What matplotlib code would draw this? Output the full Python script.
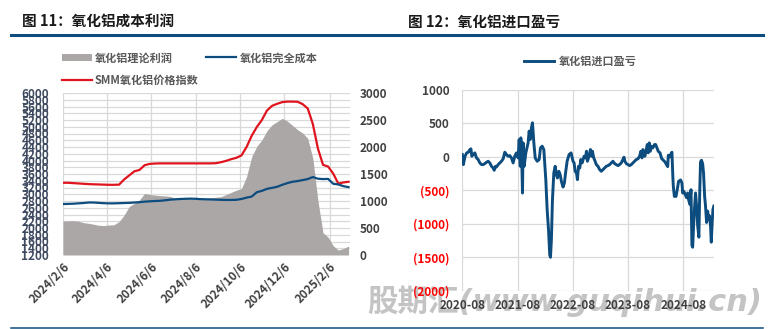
import numpy as np
import pandas as pd
import matplotlib
matplotlib.use('Agg')
import matplotlib.pyplot as plt
from matplotlib.lines import Line2D
from matplotlib.patches import Patch
from matplotlib.ticker import MultipleLocator, FuncFormatter

plt.rcParams['font.family'] = ['Noto Sans CJK SC', 'DejaVu Sans']
plt.rcParams['axes.unicode_minus'] = False

# ---- 图11 data (weekly) ----
week_dates = pd.date_range('2024-02-06', periods=57, freq='7D')
smm_price = [3340, 3340, 3330, 3320, 3310, 3300, 3295, 3290, 3285, 3280, 3280, 3285,
             3440, 3560, 3680, 3720, 3860,
             3900, 3910, 3915, 3915, 3915, 3915, 3915, 3915, 3915, 3915, 3915, 3915, 3915,
             3920, 3950, 3990, 4040, 4080,
             4150, 4400, 4730, 4990, 5200, 5480, 5620, 5680, 5730, 5745, 5745, 5740,
             5670, 5540, 5080, 4350, 3870, 3820, 3610, 3315, 3350, 3370]
full_cost = [2710, 2715, 2720, 2730, 2740, 2755, 2755, 2745, 2735, 2730, 2730, 2735,
             2740, 2745, 2755, 2765, 2780, 2790, 2800, 2805, 2820, 2840, 2850, 2860,
             2865, 2870, 2865, 2855, 2850, 2845, 2840, 2835, 2830, 2830, 2835, 2860,
             2900, 2930, 3060, 3100, 3160, 3190, 3220, 3280, 3330, 3370, 3390, 3420,
             3450, 3510, 3460, 3450, 3455, 3310, 3290, 3240, 3210]
profit = [630, 632, 635, 625, 600, 587, 570, 550, 545, 555, 560, 620,
          740, 900, 955, 1020, 1140, 1120, 1110, 1100, 1095, 1085, 1050, 1045,
          1040, 1040, 1038, 1045, 1050, 1060, 1070, 1080, 1120, 1160, 1200, 1230,
          1450, 1820, 2010, 2130, 2300, 2410, 2470, 2530, 2480, 2400, 2320, 2260,
          2160, 1790, 1000, 410, 330, 170, 92, 120, 165]
left_ticks = ['2024-02-06', '2024-04-06', '2024-06-06', '2024-08-06',
              '2024-10-06', '2024-12-06', '2025-02-06']
left_tick_labels = ['2024/2/6', '2024/4/6', '2024/6/6', '2024/8/6',
                    '2024/10/6', '2024/12/6', '2025/2/6']

# ---- 图12 data ----
import_dates = [
    '2020-08-01', '2020-08-08', '2020-08-19', '2020-08-30', '2020-09-10', '2020-09-20',
    '2020-09-27', '2020-10-03', '2020-10-12', '2020-10-23', '2020-11-03', '2020-11-14',
    '2020-11-25', '2020-12-06', '2020-12-17', '2020-12-28', '2021-01-08', '2021-01-19',
    '2021-01-30', '2021-02-10', '2021-02-21', '2021-02-28', '2021-03-09', '2021-03-15',
    '2021-03-26', '2021-04-06', '2021-04-17', '2021-04-28', '2021-05-09', '2021-05-20',
    '2021-05-31', '2021-06-11', '2021-06-22', '2021-07-03', '2021-07-14', '2021-07-25',
    '2021-08-05', '2021-08-12', '2021-08-19', '2021-08-23', '2021-08-30', '2021-09-03',
    '2021-09-07', '2021-09-14', '2021-09-25', '2021-10-10', '2021-10-17', '2021-10-24',
    '2021-11-01', '2021-11-08', '2021-11-17', '2021-11-26', '2021-12-09', '2021-12-22',
    '2021-12-31', '2022-01-11', '2022-01-22', '2022-01-28', '2022-02-04', '2022-02-13',
    '2022-02-22', '2022-03-02', '2022-03-07', '2022-03-13', '2022-03-20', '2022-03-29',
    '2022-04-07', '2022-04-15', '2022-04-22', '2022-05-01', '2022-05-10', '2022-05-18',
    '2022-05-29', '2022-06-07', '2022-06-16', '2022-06-25', '2022-07-08', '2022-07-21',
    '2022-08-03', '2022-08-10', '2022-08-17', '2022-08-26', '2022-09-01', '2022-09-08',
    '2022-09-17', '2022-09-23', '2022-10-02', '2022-10-09', '2022-10-15', '2022-10-24',
    '2022-10-31', '2022-11-06', '2022-11-17', '2022-11-26', '2022-12-03', '2022-12-09',
    '2022-12-18', '2022-12-27', '2023-01-04', '2023-01-15', '2023-01-26', '2023-02-06',
    '2023-02-17', '2023-02-28', '2023-03-11', '2023-03-22', '2023-04-02', '2023-04-13',
    '2023-04-24', '2023-05-05', '2023-05-16', '2023-05-27', '2023-06-07', '2023-06-18',
    '2023-06-29', '2023-07-06', '2023-07-12', '2023-07-21', '2023-08-01', '2023-08-12',
    '2023-08-23', '2023-09-03', '2023-09-14', '2023-09-25', '2023-10-06', '2023-10-17',
    '2023-10-26', '2023-11-02', '2023-11-08', '2023-11-15', '2023-11-21', '2023-11-30',
    '2023-12-07', '2023-12-13', '2023-12-20', '2023-12-27', '2024-01-04', '2024-01-13',
    '2024-01-24', '2024-01-31', '2024-02-09', '2024-02-17', '2024-02-29', '2024-03-11',
    '2024-03-22', '2024-04-02', '2024-04-13', '2024-04-20', '2024-04-24', '2024-05-05',
    '2024-05-12', '2024-05-18', '2024-05-23', '2024-05-27', '2024-06-03', '2024-06-14',
    '2024-06-22', '2024-07-01', '2024-07-14', '2024-07-23', '2024-07-28', '2024-08-05',
    '2024-08-14', '2024-08-23', '2024-08-30', '2024-09-05', '2024-09-14', '2024-09-21',
    '2024-09-27', '2024-10-02', '2024-10-08', '2024-10-15', '2024-10-21', '2024-10-28',
    '2024-11-04', '2024-11-12', '2024-11-18', '2024-11-23', '2024-11-29', '2024-12-07',
    '2024-12-13', '2024-12-20', '2024-12-26', '2025-01-02', '2025-01-09', '2025-01-15',
    '2025-01-21', '2025-01-28', '2025-02-02', '2025-02-08', '2025-02-13', '2025-02-19']
import_pnl = [
    35, -115, 10, 60, 70, 110,
    120, 10, 35, 60, -15, -40,
    -90, -115, -115, -100, -80, -65,
    -90, -140, -165, -200, -140, -150,
    -115, -90, -65, -30, 70, 35,
    10, 20, -15, -90, 10, 60,
    -15, 260, -140, 285, -140, -540,
    210, -140, 60, 210, 385, 260,
    435, 510, 210, -15, -65, -40,
    135, 160, 110, -90, -340, -790,
    -1090, -1465, -1500, -1240, -640, -240,
    -140, -265, -315, -215, -265, -365,
    -450, -390, -215, -65, 35, 60,
    -65, -90, -215, -240, -340, -140,
    -165, -40, -90, -40, 10, -15,
    85, -65, 10, 110, 10, 85,
    -15, -65, -115, -140, -190, -215,
    -190, -165, -140, -130, -115, -90,
    -65, -100, -115, -130, -115, -90,
    -40, -5, -65, -100, -115, -130,
    -115, -90, -65, -40, -30, 10,
    85, -15, 110, 60, 10, 110,
    185, 60, 210, 85, 160, 135,
    185, 185, 135, 85, 60, -25,
    -50, -75, -120, -145, 25, 0,
    50, 70, -245, -440, -590, -590,
    -490, -365, -345, -390, -540, -515,
    -565, -610, -540, -640, -710, -490,
    -1325, -1350, -1030, -735, -540, -735,
    -1030, -1200, -490, -75, -50, -100,
    -245, -590, -735, -980, -810, -930,
    -880, -1030, -1275, -980, -785, -735]
right_ticks = ['2020-08-01', '2021-08-01', '2022-08-01', '2023-08-01', '2024-08-01']
right_tick_labels = ['2020-08', '2021-08', '2022-08', '2023-08', '2024-08']

RED = '#e0141e'
BLUE = '#0d4c7e'
GRAY_FILL = '#aba7a7'
GRID = '#d9d9d9'
TXT = '#404040'
LEG = '#595959'

fig = plt.figure(figsize=(7.75, 3.29), dpi=100)

# headers and rules
fig.text(22 / 775, 1 - 21.5 / 329, '图 11：氧化铝成本利润', fontsize=10.5,
         fontweight='bold', color='#1a1a1a', va='center', ha='left')
fig.text(408 / 775, 1 - 21.5 / 329, '图 12：氧化铝进口盈亏', fontsize=10.5,
         fontweight='bold', color='#1a1a1a', va='center', ha='left')
fig.add_artist(Line2D([11 / 775, 763 / 775], [1 - 34.5 / 329] * 2, color='#0d4c7e',
                      lw=2.2, transform=fig.transFigure))
fig.add_artist(Line2D([11 / 775, 763 / 775], [1 - 327.5 / 329] * 2, color='#0d4c7e',
                      lw=1.1, transform=fig.transFigure))

# site watermark, sits behind the axes text
fig.text(565 / 775, 1 - 301 / 329, '股期汇(www.guqihui.cn)', fontsize=22,
         fontweight='bold', style='oblique', family=['DejaVu Sans', 'Noto Sans CJK SC'],
         color='#c4c4c4', ha='center', va='center', zorder=-5)

# ---- left chart ----
ax2 = fig.add_axes([63 / 775, 74 / 329, 287 / 775, 162 / 329])
ax = ax2.twinx()
ax.set_zorder(ax2.get_zorder() + 1)
ax.patch.set_visible(False)

ax2.fill_between(week_dates, 0, profit, color=GRAY_FILL, lw=0, zorder=2)
ax2.set_ylim(0, 3000)
ax2.yaxis.set_major_locator(MultipleLocator(500))
ax2.yaxis.set_minor_locator(MultipleLocator(125))
ax2.set_axisbelow(True)
ax2.grid(True, which='both', axis='y', color=GRID, lw=0.9)
ax2.grid(True, which='major', axis='x', color=GRID, lw=0.9)
ax2.yaxis.tick_right()
ax2.tick_params(axis='y', which='both', length=0, pad=7, labelsize=8.5,
                labelcolor=TXT)
for t in ax2.get_yticklabels():
    t.set_fontweight('bold')

ax.plot(week_dates, smm_price, color=RED, lw=1.6, zorder=3)
ax.plot(week_dates, full_cost, color=BLUE, lw=1.6, zorder=3)
ax.set_ylim(1200, 6000)
ax.yaxis.set_major_locator(MultipleLocator(200))
ax.yaxis.tick_left()
ax.tick_params(axis='y', length=0, pad=10, labelsize=8.5, labelcolor='#3e4a60')
for t in ax.get_yticklabels():
    t.set_fontweight('bold')

xt = pd.to_datetime(left_ticks)
ax2.set_xticks(xt)
ax2.set_xticklabels(left_tick_labels, rotation=45, ha='right', va='top',
                    rotation_mode='anchor', fontsize=8.5, fontweight='bold',
                    color=TXT)
ax2.tick_params(axis='x', length=0, pad=4)
ax2.set_xlim(pd.Timestamp('2024-02-06'), pd.Timestamp('2025-03-06'))
for a in (ax, ax2):
    for s in a.spines.values():
        s.set_visible(False)

handles = [Patch(color=GRAY_FILL, lw=0), Line2D([], [], color=RED, lw=1.6),
           Line2D([], [], color=BLUE, lw=1.6)]
labels = ['氧化铝理论利润', 'SMM氧化铝价格指数', '氧化铝完全成本']
leg = ax.legend(handles, labels, ncol=2, loc='upper left',
                bbox_to_anchor=(-0.005, 1.257), frameon=False, fontsize=8,
                handlelength=2.7, handletextpad=0.3, columnspacing=0.7,
                labelspacing=0.9, borderaxespad=0, borderpad=0)
for t in leg.get_texts():
    t.set_color(LEG)
    t.set_fontweight('bold')

# ---- right chart ----
bx = fig.add_axes([462.3 / 775, 38.3 / 329, 251.7 / 775, 200.7 / 329])
bx.patch.set_visible(False)
bx.plot(pd.to_datetime(import_dates), import_pnl, color=BLUE, lw=2.1,
        label='氧化铝进口盈亏', zorder=3)
bx.set_ylim(-2000, 1000)
bx.yaxis.set_major_locator(MultipleLocator(500))
bx.yaxis.set_major_formatter(FuncFormatter(
    lambda v, p: f'({abs(int(v))})' if v < 0 else f'{int(v)}'))
bx.set_xlim(pd.Timestamp('2020-08-01'), pd.Timestamp('2025-02-20'))
bx.set_xticks(pd.to_datetime(right_ticks))
bx.set_xticklabels(right_tick_labels, fontsize=8.5, fontweight='bold', color=TXT)
bx.set_axisbelow(True)
bx.grid(True, color=GRID, lw=0.9)
bx.tick_params(axis='both', length=0, labelsize=8.5)
bx.tick_params(axis='y', pad=9)
bx.tick_params(axis='x', pad=6)
for s in bx.spines.values():
    s.set_visible(False)
for t, v in zip(bx.get_yticklabels(), bx.get_yticks()):
    t.set_fontweight('bold')
    t.set_color('#ff0000' if v < 0 else TXT)

leg2 = bx.legend(loc='center', bbox_to_anchor=(0.47, 1.145), frameon=False,
                 fontsize=8, handlelength=2.7, handletextpad=0.4, borderpad=0)
for t in leg2.get_texts():
    t.set_color(LEG)
    t.set_fontweight('bold')

fig.savefig('out.png', dpi=100)
